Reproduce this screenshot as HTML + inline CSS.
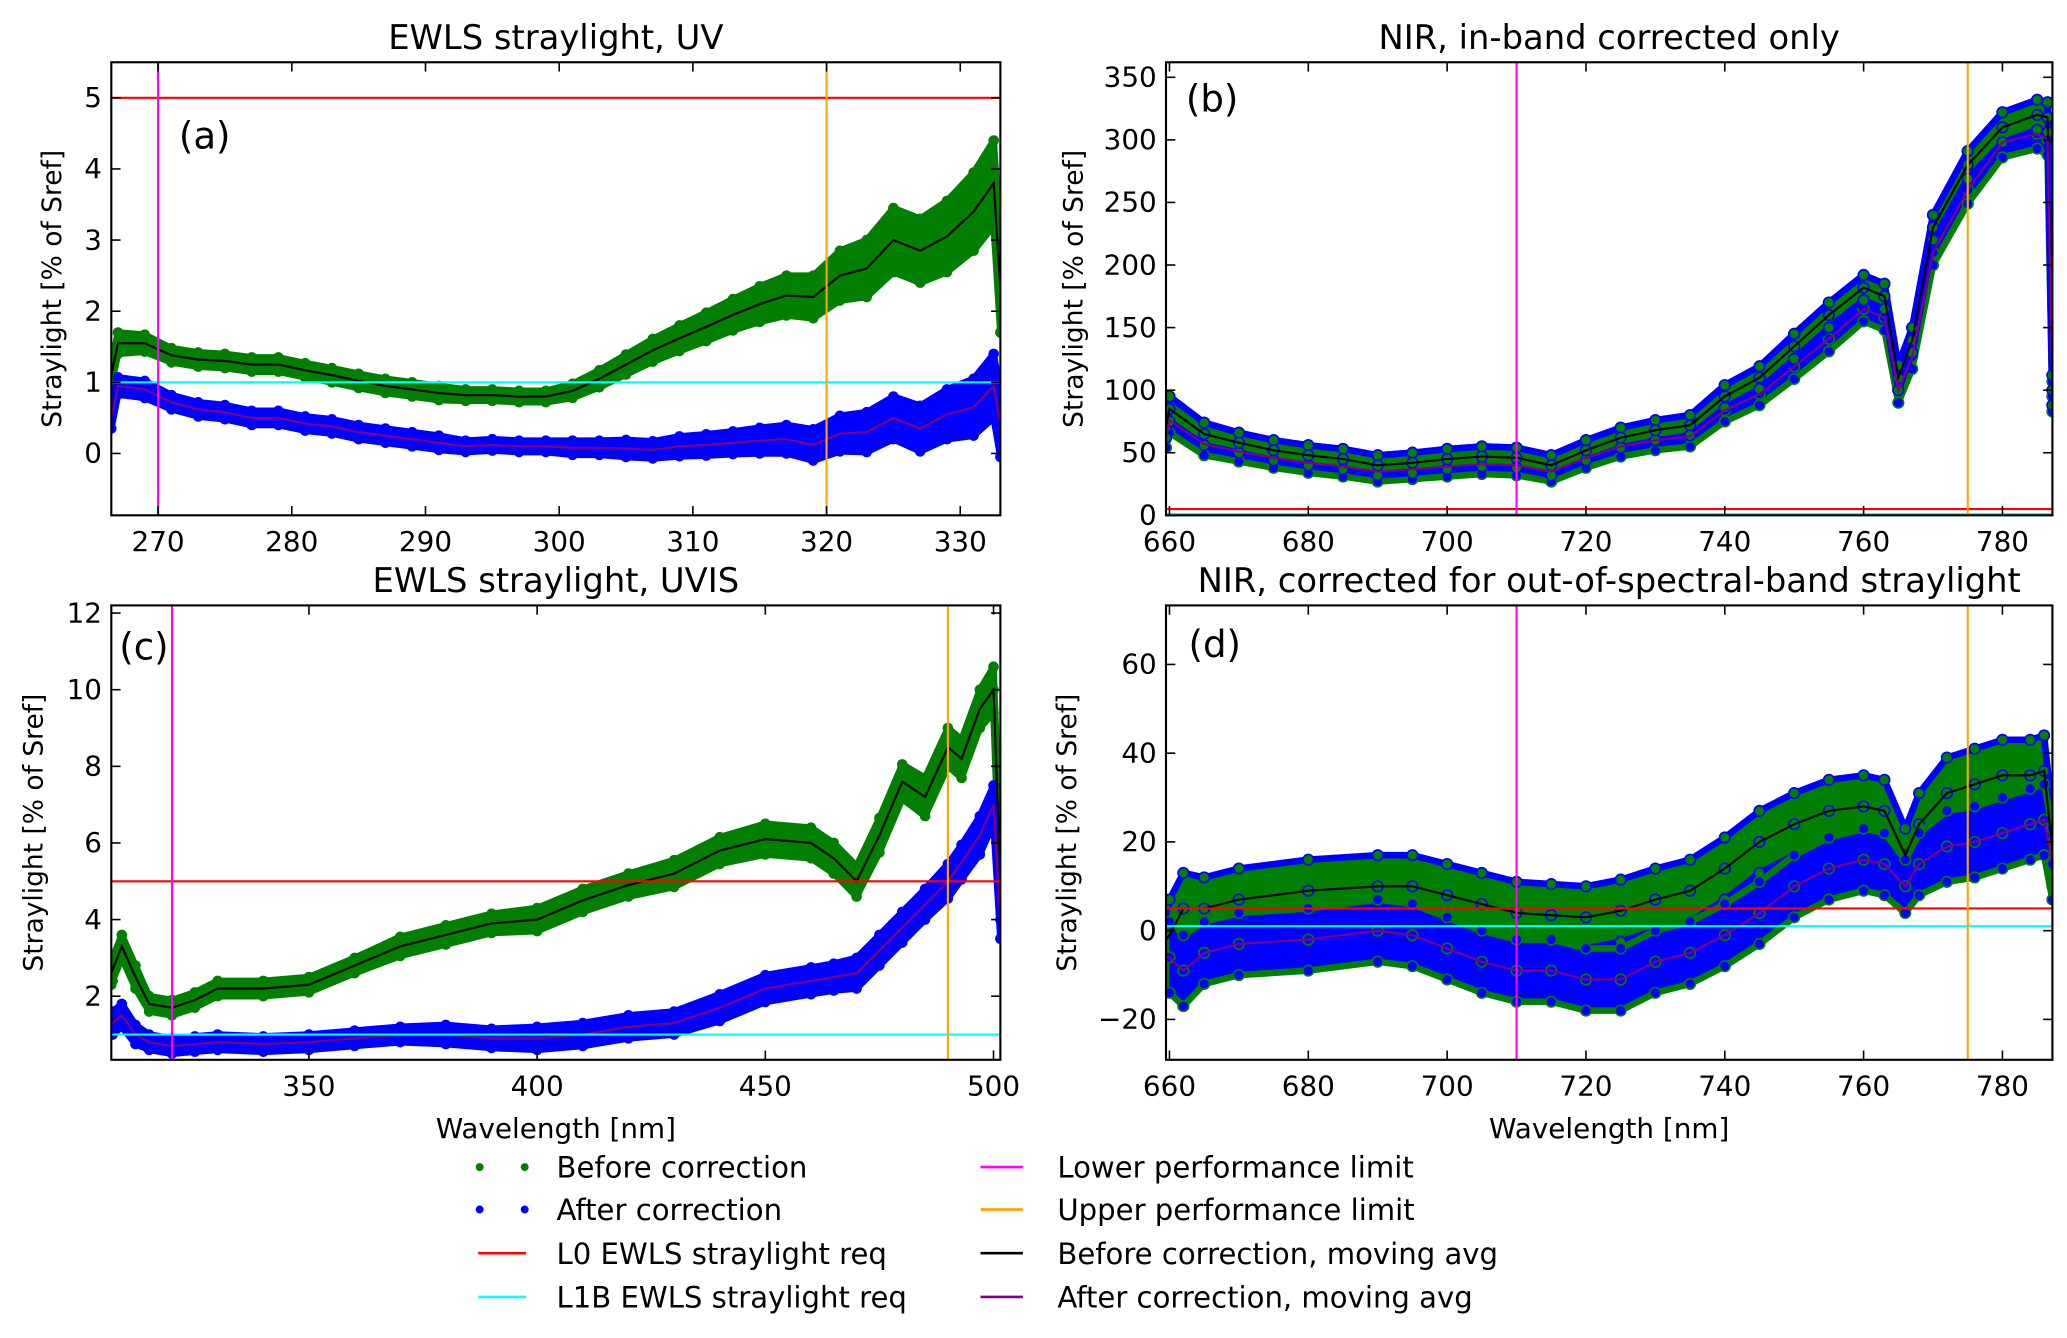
<!DOCTYPE html>
<html><head><meta charset="utf-8"><style>
html,body{margin:0;padding:0;background:#fff;}
svg{display:block;font-family:"DejaVu Sans","Liberation Sans",sans-serif;}
</style></head><body>
<svg id="fig" width="2067" height="1338" viewBox="0 0 1560 1010" preserveAspectRatio="none" xmlns="http://www.w3.org/2000/svg">
<g id="root"></g>
<g font-size="22">
  <circle cx="362" cy="881" r="3" fill="#007f00"/>
  <circle cx="396" cy="881" r="3" fill="#007f00"/>
  <text x="420" y="889">Before correction</text>
  <circle cx="362" cy="913" r="3" fill="#0000ff"/>
  <circle cx="396" cy="913" r="3" fill="#0000ff"/>
  <text x="420" y="921">After correction</text>
  <line x1="361" x2="397" y1="946" y2="946" stroke="#ff0000" stroke-width="2"/>
  <text x="420" y="954">L0 EWLS straylight req</text>
  <line x1="361" x2="397" y1="979" y2="979" stroke="#00ffff" stroke-width="2"/>
  <text x="420" y="987">L1B EWLS straylight req</text>
  <line x1="740" x2="772" y1="881" y2="881" stroke="#ff00ff" stroke-width="2"/>
  <text x="798" y="889">Lower performance limit</text>
  <line x1="740" x2="772" y1="913" y2="913" stroke="#ffa500" stroke-width="2"/>
  <text x="798" y="921">Upper performance limit</text>
  <line x1="740" x2="772" y1="946" y2="946" stroke="#000" stroke-width="2"/>
  <text x="798" y="954">Before correction, moving avg</text>
  <line x1="740" x2="772" y1="979" y2="979" stroke="#800080" stroke-width="2"/>
  <text x="798" y="987">After correction, moving avg</text>
</g>
</svg>
<script>
// ---- Panel (a) data ----
const aX = [266.5,267,269,271,273,275,277,279,281,283,285,287,289,291,293,295,297,299,301,303,305,307,309,311,313,315,317,319,321,323,325,327,329,331,332.5,333];
const aBefore = [1.1,1.55,1.55,1.38,1.32,1.3,1.25,1.25,1.17,1.1,1.02,0.95,0.9,0.85,0.82,0.82,0.8,0.8,0.88,1.05,1.25,1.45,1.62,1.78,1.95,2.1,2.22,2.2,2.5,2.6,3.0,2.85,3.05,3.4,3.8,2.3];
const aBeforeSpread = [0.15,0.15,0.12,0.1,0.1,0.1,0.1,0.1,0.1,0.1,0.1,0.1,0.1,0.1,0.08,0.08,0.08,0.08,0.1,0.12,0.14,0.16,0.18,0.2,0.22,0.25,0.28,0.3,0.35,0.4,0.45,0.45,0.5,0.55,0.6,0.6];
const aAfter = [0.5,0.95,0.9,0.72,0.62,0.58,0.5,0.5,0.42,0.38,0.3,0.25,0.2,0.15,0.1,0.12,0.1,0.1,0.08,0.08,0.07,0.05,0.1,0.12,0.15,0.18,0.2,0.12,0.28,0.3,0.5,0.35,0.55,0.65,0.95,0.4];
const aAfterSpread = [0.15,0.12,0.12,0.1,0.1,0.1,0.1,0.1,0.1,0.1,0.1,0.1,0.1,0.1,0.08,0.08,0.08,0.08,0.1,0.1,0.12,0.12,0.14,0.15,0.16,0.18,0.2,0.22,0.25,0.28,0.3,0.32,0.35,0.4,0.45,0.45];
const aXTicks = [270,280,290,300,310,320,330];
const aYTicks = [0,1,2,3,4,5];
// ---- Panel (b) data ----
const bX = [659.5,660,665,670,675,680,685,690,695,700,705,710,715,720,725,730,735,740,745,750,755,760,763,765,767,770,775,780,785,786.5,787.2];
const bBefore = [70,85,65,58,52,48,45,40,42,45,47,46,40,52,62,68,72,95,110,135,160,182,175,110,140,230,280,310,320,318,100];
const bAfter = [62,76,57,51,46,42,39,35,37,39,41,40,35,46,55,60,63,84,97,119,141,165,158,100,127,210,260,298,305,300,95];
const bSpread = [8,10,9,8,8,8,8,8,8,8,8,8,8,8,8,8,8,9,9,10,10,10,10,10,10,10,11,12,12,12,12];
const bXTicks = [660,680,700,720,740,760,780];
const bYTicks = [0,50,100,150,200,250,300,350];
// ---- Panel (c) data ----
const cX = [306.7,307,309,312,315,320,325,330,340,350,360,370,380,390,400,410,420,430,440,450,460,465,470,475,480,485,490,493,497,500,501.5];
const cBefore = [2.6,2.7,3.3,2.5,1.8,1.7,1.9,2.2,2.2,2.3,2.8,3.3,3.6,3.9,4.0,4.5,4.9,5.2,5.8,6.1,6.0,5.6,5.0,6.2,7.6,7.2,8.5,8.2,9.5,10.0,5.0];
const cBeforeSpread = [0.3,0.3,0.3,0.3,0.2,0.2,0.2,0.2,0.2,0.2,0.2,0.25,0.25,0.25,0.3,0.3,0.3,0.35,0.35,0.4,0.4,0.4,0.4,0.45,0.45,0.5,0.5,0.5,0.5,0.6,0.6];
const cAfter = [1.3,1.3,1.5,1.0,0.8,0.7,0.75,0.8,0.75,0.8,0.9,1.0,1.0,0.9,0.9,1.0,1.2,1.3,1.7,2.2,2.4,2.5,2.6,3.2,3.8,4.4,5.0,5.5,6.2,7.0,4.0];
const cAfterSpread = [0.3,0.3,0.3,0.25,0.2,0.2,0.2,0.2,0.2,0.2,0.2,0.2,0.25,0.25,0.3,0.3,0.3,0.3,0.35,0.35,0.35,0.35,0.4,0.4,0.4,0.4,0.45,0.45,0.5,0.5,0.5];
const cXTicks = [350,400,450,500];
const cYTicks = [2,4,6,8,10,12];
// ---- Panel (d) data ----
const dX = [659.5,660,662,665,670,680,690,695,700,705,710,715,720,725,730,735,740,745,750,755,760,763,766,768,772,776,780,784,786,787.2];
const dBefore = [-2,-1,5,5,7,9,10,10,8,6,4,3.5,3,4.5,7,9,14,20,24,27,28,27,17,24,31,33,35,35,36,18];
const dAfter = [-6,-6,-9,-5,-3,-2,0,-1,-4,-7,-9,-9,-11,-11,-7,-5,-1,4,10,14,16,15,10,15,19,20,22,24,25,15];
const dSpread = [8,8,8,7,7,7,7,7,7,7,7,7,7,7,7,7,7,7,7,7,7,7,6,7,8,8,8,8,8,8];
const dXTicks = [660,680,700,720,740,760,780];
const dYTicks = [-20,0,20,40,60];

const NS = 'http://www.w3.org/2000/svg';
const root = document.getElementById('root');
function mk(tag, attrs, parent) {
  const e = document.createElementNS(NS, tag);
  for (const k in attrs) e.setAttribute(k, attrs[k]);
  (parent || root).appendChild(e);
  return e;
}

function panel(o) {
  const g = mk('g', {});
  
  
  const sx = v => o.L + (v - o.x0) / (o.x1 - o.x0) * (o.R - o.L);
  const sy = v => o.B - (v - o.y0) / (o.y1 - o.y0) * (o.B - o.T);
  const cid = 'clip-' + o.name;
  const cp = mk('clipPath', {id: cid}, g);
  mk('rect', {x: o.L, y: o.T, width: o.R - o.L, height: o.B - o.T}, cp);
  const plot = mk('g', {'clip-path': 'url(#' + cid + ')'}, g);

  function band(xs, ys, sp, fill, stroke, nm) {
    let up = xs.map((x, i) => sx(x) + ',' + sy(ys[i] + sp[i]));
    let dn = xs.map((x, i) => sx(x) + ',' + sy(ys[i] - sp[i])).reverse();
    const p = mk('polygon', {points: up.concat(dn).join(' '), fill: fill, stroke: stroke, 'stroke-width': 5, 'stroke-linejoin': 'round'}, plot);
    
    
    xs.forEach((x, i) => {
      [ys[i] + sp[i], ys[i] - sp[i], ys[i]].forEach(v => {
        const c = mk('circle', {cx: sx(x), cy: sy(v), r: 4, fill: fill, stroke: stroke, 'stroke-width': o.edge ? 1.2 : 0}, plot);
        
        
      });
    });
  }
  function line(xs, ys, col, nm) {
    const p = mk('polyline', {points: xs.map((x, i) => sx(x) + ',' + sy(ys[i])).join(' '), fill: 'none', stroke: col, 'stroke-width': 1.6}, plot);
    
    
  }
  band(o.x, o.before, o.bs, '#007f00', o.edge ? '#0000ff' : '#007f00', 'before');
  band(o.x, o.after, o.as, '#0000ff', o.edge ? '#007f00' : '#0000ff', 'after');
  if (o.orderBefore) band(o.x, o.before, o.bs, '#007f00', '#0000ff', 'before-top');
  line(o.x, o.before, '#000', 'before-moving-avg');
  line(o.x, o.after, '#800080', 'after-moving-avg');
  function hline(v, col, nm) {
    const l = mk('line', {x1: o.L, x2: o.R, y1: sy(v), y2: sy(v), stroke: col, 'stroke-width': 1.6}, plot);
    
    
  }
  function vline(v, col, nm) {
    const l = mk('line', {x1: sx(v), x2: sx(v), y1: o.T, y2: o.B, stroke: col, 'stroke-width': 1.6}, plot);
    
    
  }
  hline(5, '#ff0000', 'l0-requirement-line');
  hline(1, '#00ffff', 'l1b-requirement-line');
  vline(o.lower, '#ff00ff', 'lower-limit-line');
  vline(o.upper, '#ffa500', 'upper-limit-line');

  const fr = mk('rect', {x: o.L, y: o.T, width: o.R - o.L, height: o.B - o.T, fill: 'none', stroke: '#000', 'stroke-width': 1.6}, g);
  
  
  o.xt.forEach(v => {
    const X = sx(v);
    mk('line', {x1: X, x2: X, y1: o.B, y2: o.B - 7, stroke: '#000', 'stroke-width': 1.2}, g);
    mk('line', {x1: X, x2: X, y1: o.T, y2: o.T + 7, stroke: '#000', 'stroke-width': 1.2}, g);
    const t = mk('text', {x: X, y: o.B + 27, 'text-anchor': 'middle', 'font-size': 21}, g);
    t.textContent = v;
    
    
  });
  o.yt.forEach(v => {
    const Y = sy(v);
    mk('line', {x1: o.L, x2: o.L + 7, y1: Y, y2: Y, stroke: '#000', 'stroke-width': 1.2}, g);
    mk('line', {x1: o.R, x2: o.R - 7, y1: Y, y2: Y, stroke: '#000', 'stroke-width': 1.2}, g);
    const t = mk('text', {x: o.L - 7, y: Y + 7, 'text-anchor': 'end', 'font-size': 21}, g);
    t.textContent = v < 0 ? '\u2212' + (-v) : v;
    
    
  });
  const ti = mk('text', {x: (o.L + o.R) / 2, y: o.T - 10, 'text-anchor': 'middle', 'font-size': 25.5}, g);
  ti.textContent = o.title;
  
  
  const pl = mk('text', {x: o.lx, y: o.ly, 'font-size': 28}, g);
  pl.textContent = o.label;
  
  
  const yl = mk('text', {x: o.ylx, y: (o.T + o.B) / 2, 'text-anchor': 'middle', 'font-size': 20, transform: 'rotate(-90 ' + o.ylx + ' ' + (o.T + o.B) / 2 + ')'}, g);
  yl.textContent = 'Straylight [% of Sref]';
  
  
  if (o.xlabel) {
    const xl = mk('text', {x: (o.L + o.R) / 2, y: o.B + 59, 'text-anchor': 'middle', 'font-size': 21}, g);
    xl.textContent = 'Wavelength [nm]';
    
    
  }
}

panel({name: 'panel-a', L: 84, R: 755, T: 47, B: 389, x0: 266.5, x1: 333, y0: -0.87, y1: 5.5,
  x: aX, before: aBefore, bs: aBeforeSpread, after: aAfter, as: aAfterSpread, xt: aXTicks, yt: aYTicks,
  lower: 270, upper: 320, title: 'EWLS straylight, UV', label: '(a)', lx: 135, ly: 112, ylx: 46});
panel({name: 'panel-b', L: 880, R: 1549, T: 47, B: 389, x0: 659.5, x1: 787.2, y0: 0, y1: 362,
  x: bX, before: bBefore, bs: bSpread, after: bAfter, as: bSpread, xt: bXTicks, yt: bYTicks, edge: true, orderBefore: true,
  lower: 710, upper: 775, title: 'NIR, in-band corrected only', label: '(b)', lx: 895, ly: 84, ylx: 817});
panel({name: 'panel-c', L: 84, R: 755, T: 457, B: 800, x0: 306.7, x1: 501.5, y0: 0.34, y1: 12.2,
  x: cX, before: cBefore, bs: cBeforeSpread, after: cAfter, as: cAfterSpread, xt: cXTicks, yt: cYTicks, xlabel: true,
  lower: 320, upper: 490, title: 'EWLS straylight, UVIS', label: '(c)', lx: 90, ly: 498, ylx: 32});
panel({name: 'panel-d', L: 880, R: 1549, T: 457, B: 800, x0: 659.5, x1: 787.2, y0: -29.1, y1: 73.3,
  x: dX, before: dBefore, bs: dSpread, after: dAfter, as: dSpread, xt: dXTicks, yt: dYTicks, edge: true, xlabel: true,
  lower: 710, upper: 775, title: 'NIR, corrected for out-of-spectral-band straylight', label: '(d)', lx: 897, ly: 496, ylx: 812});
</script>
</body></html>
